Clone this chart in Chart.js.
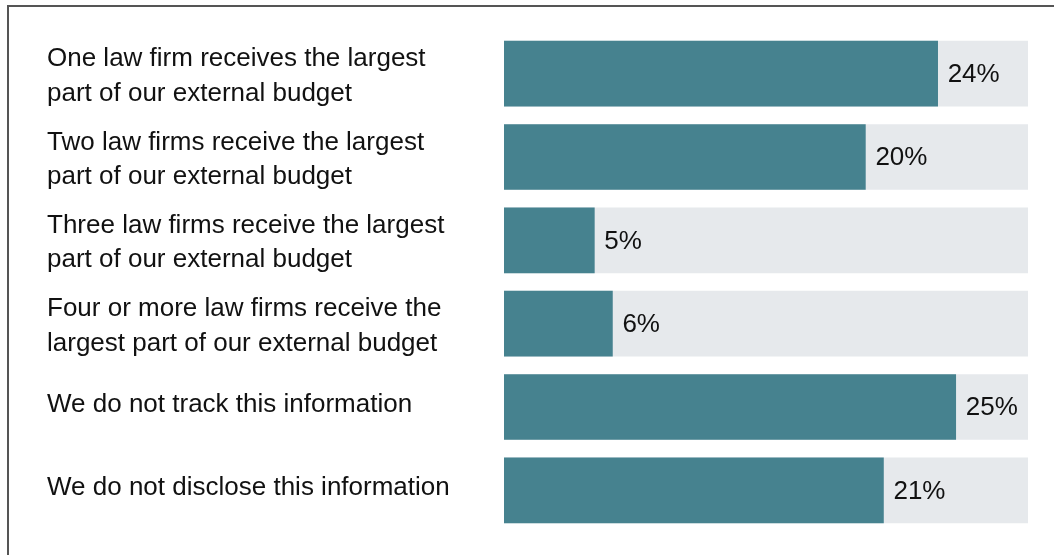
<!DOCTYPE html>
<html>
<head>
<meta charset="utf-8">
<script src="https://cdn.jsdelivr.net/npm/chart.js@4"></script>
<style>
  html, body { margin: 0; padding: 0; background: #fff; }
  #wrap { position: relative; width: 1054px; height: 555px; overflow: hidden; }
  #frame {
    position: absolute; left: 7px; top: 5px; right: -10px; bottom: -10px;
    border-left: 2px solid #555; border-top: 2px solid #555;
  }
  canvas { position: absolute; left: 0; top: 0; }
</style>
</head>
<body>
<div id="wrap">
  <div id="frame"></div>
  <canvas id="chart" width="1054" height="555"></canvas>
</div>
<script>
  // categories (one array entry per text line)
  const categories = [
    ['One law firm receives the largest', 'part of our external budget'],
    ['Two law firms receive the largest', 'part of our external budget'],
    ['Three law firms receive the largest', 'part of our external budget'],
    ['Four or more law firms receive the', 'largest part of our external budget'],
    ['We do not track this information'],
    ['We do not disclose this information'],
  ];
  const shares = [24, 20, 5, 6, 25, 21];
  const trackMax = 29;
  const track = [trackMax, trackMax, trackMax, trackMax, trackMax, trackMax];

  const FONT = '"Liberation Sans", Arial, Helvetica, sans-serif';
  const TEXT = '#111';

  // left-hand category labels, placed against each bar's centre
  const categoryLabels = {
    id: 'categoryLabels',
    afterDraw(chart) {
      const ctx = chart.ctx;
      const y = chart.scales.y;
      ctx.save();
      ctx.font = '26px ' + FONT;
      ctx.fillStyle = TEXT;
      ctx.textAlign = 'left';
      ctx.textBaseline = 'alphabetic';
      categories.forEach((lines, i) => {
        const cy = y.getPixelForValue(i);
        if (lines.length === 1) {
          ctx.fillText(lines[0], 47, cy + 4.5);
        } else {
          ctx.fillText(lines[0], 47, cy - 7.5);
          ctx.fillText(lines[1], 47, cy + 27);
        }
      });
      ctx.restore();
    },
  };

  // percentage next to the end of each filled bar
  const valueLabels = {
    id: 'valueLabels',
    afterDatasetsDraw(chart) {
      const ctx = chart.ctx;
      const meta = chart.getDatasetMeta(0);
      ctx.save();
      ctx.font = '26px ' + FONT;
      ctx.fillStyle = TEXT;
      ctx.textAlign = 'left';
      ctx.textBaseline = 'middle';
      meta.data.forEach((bar, i) => {
        ctx.fillText(shares[i] + '%', bar.x + 10, bar.y + 1);
      });
      ctx.restore();
    },
  };

  new Chart(document.getElementById('chart'), {
    type: 'bar',
    data: {
      labels: categories,
      datasets: [
        { data: shares, backgroundColor: '#46828f', grouped: false, barThickness: 65, borderWidth: 0 },
        { data: track, backgroundColor: '#e6e9ec', grouped: false, barThickness: 65, borderWidth: 0 },
      ],
    },
    options: {
      indexAxis: 'y',
      responsive: false,
      animation: false,
      events: [],
      layout: { padding: { left: 504, right: 26, top: 32, bottom: 23 } },
      plugins: { legend: { display: false }, tooltip: { enabled: false } },
      scales: {
        x: { display: false, min: 0, max: trackMax },
        y: { display: false },
      },
    },
    plugins: [categoryLabels, valueLabels],
  });
</script>
</body>
</html>
